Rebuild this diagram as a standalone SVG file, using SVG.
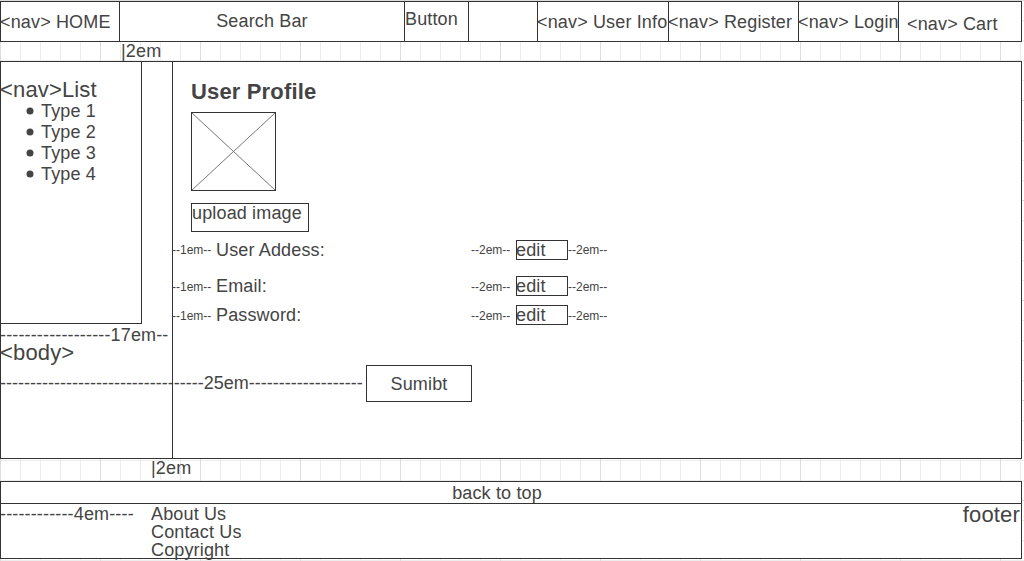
<svg xmlns="http://www.w3.org/2000/svg" width="1024" height="561" viewBox="0 0 1024 561">
<style>
text{font-family:"Liberation Sans",Arial,sans-serif;font-size:18px;fill:#444;letter-spacing:0.15px}
.box{fill:#fff;stroke:#333;stroke-width:1}
.ln{stroke:#333;stroke-width:1;fill:none}
.sm{font-size:12px;letter-spacing:0}
.big{font-size:22px}
.b{font-weight:bold;font-size:22px}
.mid{text-anchor:middle}
.end{text-anchor:end}
.dash{letter-spacing:0}
</style>
<defs>
<pattern id="grid" width="100" height="100" patternUnits="userSpaceOnUse">
<path d="M20.5 0V100M40.5 0V100M60.5 0V100M80.5 0V100M0 20.5H100M0 40.5H100M0 60.5H100M0 80.5H100" stroke="#ececec" stroke-width="1" fill="none"/>
<path d="M0.5 0V100M0 0.5H100" stroke="#dcdcdc" stroke-width="1" fill="none"/>
</pattern>
</defs>
<rect width="1024" height="561" fill="#fff"/>
<rect width="1024" height="561" fill="url(#grid)"/>

<g id="header">
<rect class="box" x="0.5" y="1.5" width="1021" height="40"/>
<path class="ln" d="M119.5 1.5V41.5M404.5 1.5V41.5M468.5 1.5V41.5M537.5 1.5V41.5M668.5 1.5V41.5M798.5 1.5V41.5M898.5 1.5V41.5"/>
<text x="0" y="28">&lt;nav&gt; HOME</text>
<text class="mid" x="262" y="27">Search Bar</text>
<text x="405" y="25">Button</text>
<text x="537" y="28">&lt;nav&gt; User Info</text>
<text x="668" y="28">&lt;nav&gt; Register</text>
<text x="798" y="28">&lt;nav&gt; Login</text>
<text x="907" y="30">&lt;nav&gt; Cart</text>
</g>

<g id="gap-top">
<text x="121" y="57">|2em</text>
</g>

<g id="body">
<rect class="box" x="0.5" y="61.5" width="1021" height="397"/>
<text x="0" y="360" class="big">&lt;body&gt;</text>
<text x="0" y="341">------------------17em--</text>
<text x="0" y="389" class="dash">----------------------------------25em-------------------</text>
</g>

<g id="nav-list">
<rect class="box" x="0.5" y="61.5" width="141" height="262"/>
<text x="0" y="97" class="big">&lt;nav&gt;List</text>
<circle cx="30" cy="111" r="3.5" fill="#444"/>
<circle cx="30" cy="132" r="3.5" fill="#444"/>
<circle cx="30" cy="153" r="3.5" fill="#444"/>
<circle cx="30" cy="174" r="3.5" fill="#444"/>
<text x="41" y="117">Type 1</text>
<text x="41" y="138">Type 2</text>
<text x="41" y="159">Type 3</text>
<text x="41" y="180">Type 4</text>
</g>

<g id="main">
<path class="ln" d="M172.5 61.5V458.5"/>
<text x="191" y="99" class="b">User Profile</text>
</g>

<g id="image">
<rect class="box" x="191.5" y="112.5" width="84" height="78"/>
<path d="M192 113L275 190M275 113L192 190" stroke="#777" stroke-width="1" fill="none"/>
</g>

<g id="upload">
<rect class="box" x="191.5" y="203.5" width="117" height="28"/>
<text x="192" y="219">upload image</text>
</g>

<g id="row-address">
<text class="sm" x="172" y="254">--1em--</text>
<text x="216" y="256">User Addess:</text>
<text class="sm" x="471" y="254">--2em--</text>
<rect class="box" x="516.5" y="240.5" width="51" height="19"/>
<text x="516" y="256">edit</text>
<text class="sm" x="568" y="254">--2em--</text>
</g>

<g id="row-email">
<text class="sm" x="172" y="291">--1em--</text>
<text x="216" y="292">Email:</text>
<text class="sm" x="471" y="291">--2em--</text>
<rect class="box" x="516.5" y="276.5" width="51" height="19"/>
<text x="516" y="292">edit</text>
<text class="sm" x="568" y="291">--2em--</text>
</g>

<g id="row-password">
<text class="sm" x="172" y="320">--1em--</text>
<text x="216" y="321">Password:</text>
<text class="sm" x="471" y="320">--2em--</text>
<rect class="box" x="516.5" y="305.5" width="51" height="19"/>
<text x="516" y="321">edit</text>
<text class="sm" x="568" y="320">--2em--</text>
</g>

<g id="submit">
<rect class="box" x="366.5" y="365.5" width="105" height="36"/>
<text class="mid" x="419" y="390">Sumibt</text>
</g>

<g id="gap-bottom">
<text x="151" y="474">|2em</text>
</g>

<g id="back-to-top">
<rect class="box" x="0.5" y="481.5" width="1021" height="22"/>
<text class="mid" x="497" y="499">back to top</text>
</g>

<g id="footer">
<rect class="box" x="0.5" y="503.5" width="1021" height="55"/>
<text x="0" y="520">------------4em----</text>
<text x="151" y="520">About Us</text>
<text x="151" y="538">Contact Us</text>
<text x="151" y="556">Copyright</text>
<text class="big end" x="1020" y="522">footer</text>
</g>

<g id="connectors"></g>
</svg>
